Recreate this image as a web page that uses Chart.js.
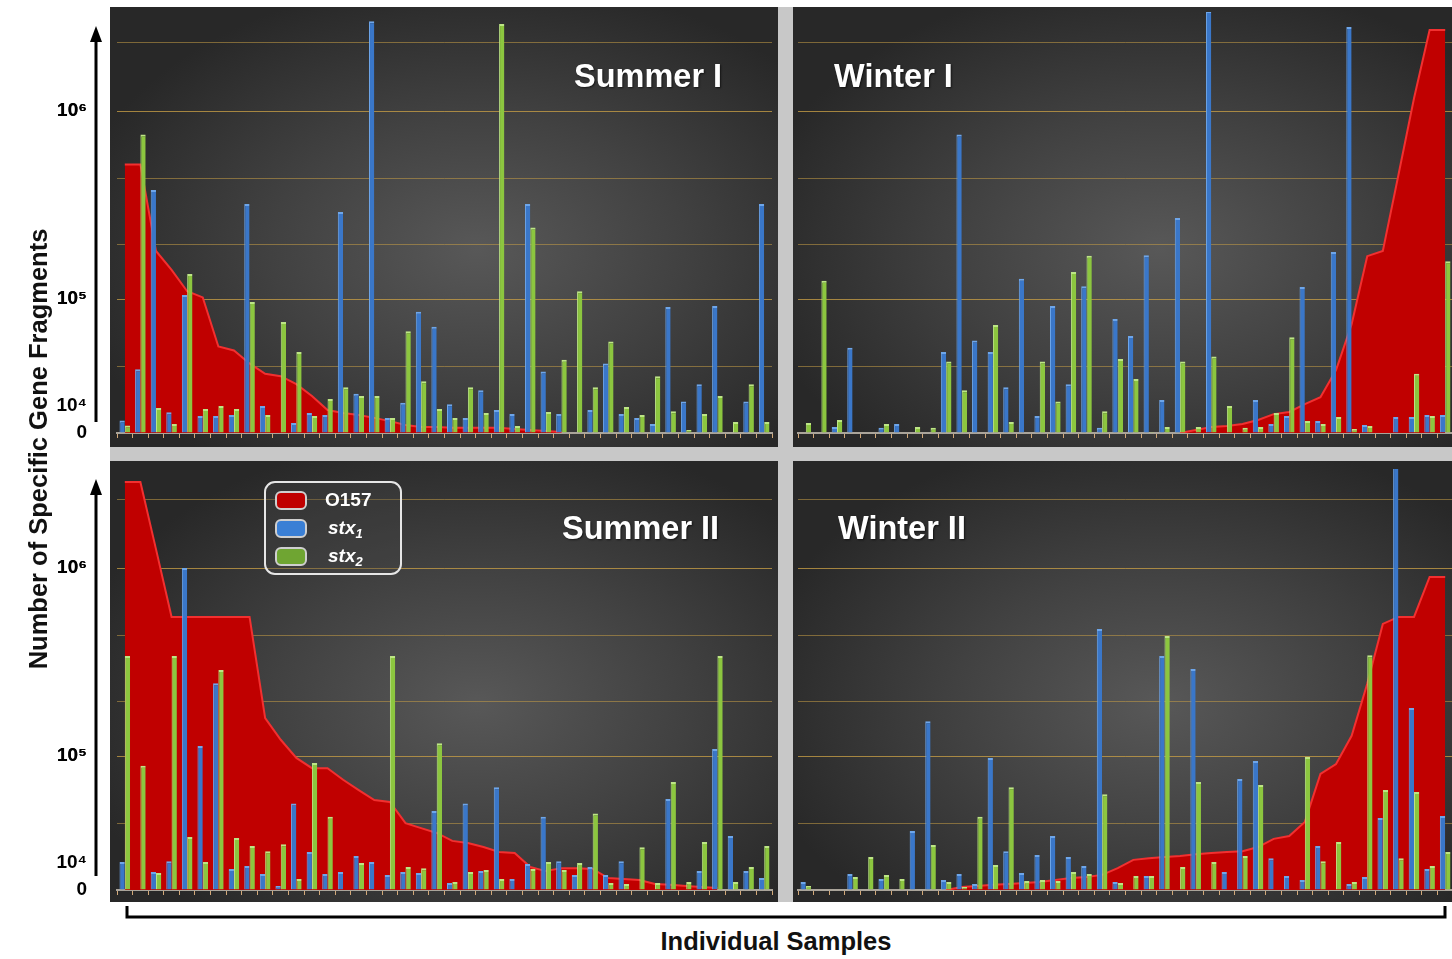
<!DOCTYPE html>
<html>
<head>
<meta charset="utf-8">
<script src="https://cdn.jsdelivr.net/npm/chart.js@4.4.0/dist/chart.umd.min.js"></script>
<style>
html, body { margin: 0; padding: 0; overflow: hidden; }
body { width: 1452px; height: 959px; background: #fff; position: relative; font-family: "Liberation Sans", Arial, sans-serif; }
.abs { position: absolute; }
#frame { left: 110px; top: 7px; width: 1342px; height: 895px; background: #c8c8c8; }
.panel { position: absolute; background: radial-gradient(ellipse 62% 62% at 55% 55%, #585858 0%, #414141 50%, #282828 100%); }
canvas { position: absolute; }
.title { position: absolute; color: #fff; font-weight: bold; font-size: 32.5px; line-height: 32px; white-space: nowrap; text-shadow: 1px 1px 2px rgba(0,0,0,0.6); }
#ytitle { left: -262px; top: 434px; width: 600px; height: 30px; line-height: 30px; text-align: center; font-weight: bold; font-size: 25.5px; color: #111; transform: rotate(-90deg); }
#xtitle { left: 476px; top: 927px; width: 600px; line-height: 28px; text-align: center; font-weight: bold; font-size: 25.5px; color: #111; }
#legend { left: 264px; top: 481px; width: 134px; height: 90px; border: 2px solid #e6e6e6; border-radius: 11px; background: rgba(70,70,70,0.35); }
.sw { position: absolute; left: 9px; width: 28px; height: 15px; border: 2px solid #cfcfcf; border-radius: 6px; }
.lt { position: absolute; left: 59px; color: #fff; font-weight: bold; font-size: 19px; line-height: 20px; }
.lt sub { font-size: 13px; vertical-align: -4px; line-height: 0; }
</style>
</head>
<body>
<div id="frame" class="abs"></div>
<div class="panel" style="left:110px;top:7px;width:668px;height:440px"></div>
<div class="panel" style="left:793px;top:7px;width:667px;height:440px"></div>
<div class="panel" style="left:110px;top:461px;width:668px;height:441px"></div>
<div class="panel" style="left:793px;top:461px;width:667px;height:441px"></div>

<canvas id="c1" width="748" height="440" style="left:30px;top:7px"></canvas>
<canvas id="c2" width="667" height="440" style="left:793px;top:7px"></canvas>
<canvas id="c3" width="748" height="441" style="left:30px;top:461px"></canvas>
<canvas id="c4" width="667" height="441" style="left:793px;top:461px"></canvas>

<div class="title" style="left:574px;top:60px">Summer I</div>
<div class="title" style="left:834px;top:60px">Winter I</div>
<div class="title" style="left:562px;top:512px">Summer II</div>
<div class="title" style="left:838px;top:512px">Winter II</div>

<div id="legend" class="abs">
  <div class="sw" style="top:8px;background:#c00000"></div>
  <div class="lt" style="top:7px">O157</div>
  <div class="sw" style="top:36px;background:#3a7fd5"></div>
  <div class="lt" style="top:35px;left:62px"><i>stx<sub>1</sub></i></div>
  <div class="sw" style="top:64px;background:#6fa532"></div>
  <div class="lt" style="top:63px;left:62px"><i>stx<sub>2</sub></i></div>
</div>

<div id="ytitle" class="abs">Number of Specific Gene Fragments</div>
<div id="xtitle" class="abs">Individual Samples</div>

<svg class="abs" style="left:0;top:0" width="1452" height="959">
  <g stroke="#000" stroke-width="3" fill="none">
    <line x1="96" y1="422" x2="96" y2="38"/>
    <line x1="96" y1="876" x2="96" y2="491"/>
    <polyline points="127,906 127,917 1445,917 1445,906"/>
  </g>
  <polygon points="96,26 90,42 102,42" fill="#000"/>
  <polygon points="96,479 90,495 102,495" fill="#000"/>
</svg>

<script>
// sample index on the x axis (42 samples per season)
var samples = [];
for (var i = 1; i <= 42; i++) samples.push(String(i));

// Summer I
var summer1_o157 = [520000, 520000, 180000, 143000, 110000, 102000, 36000, 33000, 25000, 20000, 19000, 16000, 12400, 8500, 7400, 6700, 5600, 4400, 3000, 2200, 2200, 1900, 1900, 1900, 1900, 1500, 1100, 740, 370, null, null, null, null, null, null, null, null, null, null, null, null, null];
var summer1_stx1 = [4600, 22000, 380000, 7700, 105000, 6300, 6300, 6700, 320000, 10000, 0, 3700, 7400, 6700, 290000, 13000, 3000000, 5600, 10700, 76000, 55000, 10400, 5600, 14000, 8500, 7000, 320000, 21000, 7000, 0, 8500, 25000, 7000, 5600, 3300, 84000, 11000, 16000, 86000, 0, 11000, 320000];
var summer1_stx2 = [2800, 750000, 9300, 3300, 136000, 8900, 10000, 8900, 94000, 6700, 61000, 32000, 6300, 11600, 15000, 12400, 12400, 5600, 50000, 17000, 8900, 5600, 15000, 7400, 2900000, 2600, 240000, 7800, 27000, 110000, 15000, 40000, 9600, 6700, 19000, 8100, 1100, 7000, 12400, 4100, 16000, 4100];

// Winter I
var winter1_o157 = [null, null, null, null, null, null, null, null, null, null, null, null, null, null, null, null, null, null, null, null, null, null, null, null, 0, 1100, 2200, 2600, 3300, 4800, 7000, 7800, 10400, 12100, 21700, 58000, 169000, 180000, 457000, 1170000, 2700000, 2700000];
var winter1_stx1 = [0, 0, 2200, 35000, 0, 1900, 3300, 0, 0, 32000, 750000, 41000, 32000, 15000, 128000, 6300, 86000, 16000, 117000, 1900, 65000, 45000, 171000, 11400, 270000, 0, 3400000, 0, 0, 11400, 3300, 6300, 116000, 4400, 178000, 2800000, 3000, 0, 5900, 5900, 6700, 6700];
var winter1_stx2 = [3700, 125000, 4800, 0, 0, 3300, 0, 2200, 1900, 26000, 14000, 0, 57000, 4100, 0, 26000, 11000, 139000, 170000, 8100, 27500, 17900, 400, 2200, 26000, 2200, 29000, 10000, 1900, 2200, 7400, 44000, 4400, 3300, 5900, 1500, 2600, 0, 0, 20000, 6300, 159000];

// Summer II
var summer2_o157 = [2870000, 2870000, 1260000, 549000, 549000, 549000, 549000, 549000, 549000, 159000, 122000, 96000, 77000, 77000, 60000, 48000, 38800, 37200, 23600, 21200, 19100, 16100, 15400, 14100, 12700, 12400, 8500, 7000, 8100, 8100, 7800, 4400, 4100, 3700, 2200, 1900, 1500, 1100, 740, null, null, null];
var summer2_stx1 = [10200, 0, 6700, 10400, 1000000, 113000, 244000, 7800, 8900, 5900, 1500, 36000, 12700, 5900, 6700, 11600, 10200, 5600, 6700, 6300, 30600, 2600, 36000, 7000, 51000, 4100, 9600, 27000, 10400, 5600, 8500, 5600, 10400, 0, 0, 39600, 0, 7000, 109000, 17900, 7000, 4400];
var summer2_stx2 = [340000, 81000, 6300, 340000, 17500, 10200, 287000, 17100, 14400, 12900, 15000, 4100, 86000, 27000, 0, 10000, 0, 340000, 8500, 8100, 117000, 3000, 6700, 7400, 4100, 0, 7800, 10200, 7400, 10000, 29000, 2600, 2200, 14000, 2600, 57000, 3000, 15700, 340000, 3000, 8500, 14400];

// Winter II
var winter2_o157 = [null, null, null, null, null, null, null, null, null, 0, 1100, 1500, 1900, 2200, 2600, 3000, 3700, 4400, 4800, 5600, 8100, 10700, 11100, 11400, 11600, 12100, 12400, 12700, 12900, 14100, 16800, 17900, 24200, 67900, 84000, 128000, 242000, 504000, 549000, 549000, 896000, 896000];
var winter2_stx1 = [3000, 0, 0, 5900, 0, 4100, 0, 19900, 153000, 3700, 5900, 2200, 96000, 12900, 6300, 11900, 17900, 11400, 8900, 474000, 3000, 0, 5200, 340000, 0, 290000, 0, 6700, 61000, 90000, 11100, 5200, 3700, 14400, 0, 2200, 4800, 26300, 3490000, 180000, 7800, 27500];
var winter2_stx2 = [1500, 0, 0, 4800, 11400, 5600, 4100, 0, 14700, 3000, 1100, 27000, 9300, 51000, 3300, 3700, 3300, 6700, 5900, 44000, 2600, 5200, 5200, 435000, 8500, 57000, 10200, 0, 11600, 53600, 0, 0, 98000, 10400, 15700, 3000, 344000, 48000, 11100, 46100, 8900, 12700];

// y axis: labelled ticks and the gold grid lines
var tickValues = [0, 10000, 100000, 1000000];
var tickLabels = ['0', '10\u2074', '10\u2075', '10\u2076'];
var gridValues = [23400, 100000, 195000, 440000, 1000000, 2300000];

// the original axis is linear below 10^4 and stretched log above it
var toAxis = function(v) {
    if (v === null) return null;
    if (v <= 1e4) return 27 * v / 1e4;
    if (v <= 1e5) return 27 + 107 * Math.log10(v / 1e4);
    return 134 + 188 * Math.log10(v / 1e5);
};

var near = function(a, b) { return Math.abs(a - b) < 0.01; };

var newChart = function(id, o157, stx1, stx2, opt) {
    var ctx = document.getElementById(id).getContext('2d');
    return new Chart(ctx, {
        type: 'bar',
        data: {
            labels: samples,
            datasets: [{
                label: 'stx1',
                data: stx1.map(toAxis),
                backgroundColor: '#3a77c9',
                borderColor: '#6ea6ea',
                borderWidth: {top: 2, left: 1, right: 0, bottom: 0},
                categoryPercentage: 0.68,
                barPercentage: 1.0,
                order: 1
            }, {
                label: 'stx2',
                data: stx2.map(toAxis),
                backgroundColor: '#8cc63f',
                borderColor: '#bde685',
                borderWidth: {top: 2, left: 1, right: 0, bottom: 0},
                categoryPercentage: 0.68,
                barPercentage: 1.0,
                order: 2
            }, {
                type: 'line',
                label: 'O157',
                data: o157.map(toAxis),
                borderColor: '#f23030',
                backgroundColor: '#c00000',
                borderWidth: 2,
                fill: 'origin',
                pointRadius: 0,
                tension: 0,
                order: 3
            }]
        },
        options: {
            responsive: false,
            animation: false,
            layout: {padding: {top: opt.padTop, right: opt.padRight, left: 0, bottom: 0}},
            plugins: {legend: {display: false}, tooltip: {enabled: false}},
            scales: {
                x: {
                    ticks: {display: false},
                    grid: {offset: true, drawOnChartArea: false, drawTicks: true, tickLength: 5, color: '#d2a878'},
                    border: {display: true, color: '#aaa49a', width: 2},
                    afterFit: function(s) { s.height = opt.xHeight; s.paddingLeft = 0; s.paddingRight = 0; }
                },
                y: {
                    min: 0,
                    max: 421,
                    afterBuildTicks: function(s) {
                        var vals = tickValues.concat(gridValues).map(toAxis);
                        s.ticks = vals.map(function(v) { return {value: v}; });
                    },
                    ticks: {
                        display: opt.showY,
                        autoSkip: false,
                        padding: 30,
                        color: '#000',
                        font: {family: '"Liberation Sans", Arial, sans-serif', size: 19, weight: 'bold'},
                        callback: function(value) {
                            for (var k = 0; k < tickValues.length; k++) {
                                if (near(value, toAxis(tickValues[k]))) return tickLabels[k];
                            }
                            return '';
                        }
                    },
                    grid: {
                        drawTicks: false,
                        lineWidth: 1,
                        color: function(c) {
                            if (!c.tick) return 'transparent';
                            for (var k = 0; k < gridValues.length; k++) {
                                if (near(c.tick.value, toAxis(gridValues[k]))) return 'rgba(196,156,70,0.55)';
                            }
                            return 'transparent';
                        }
                    },
                    border: {display: false},
                    afterFit: function(s) { s.width = opt.yWidth; s.paddingTop = 0; s.paddingBottom = 0; }
                }
            }
        }
    });
};

newChart('c1', summer1_o157, summer1_stx1, summer1_stx2, {showY: true, yWidth: 87, padTop: 5, padRight: 6, xHeight: 14});
newChart('c2', winter1_o157, winter1_stx1, winter1_stx2, {showY: false, yWidth: 5, padTop: 5, padRight: 7, xHeight: 14});
newChart('c3', summer2_o157, summer2_stx1, summer2_stx2, {showY: true, yWidth: 87, padTop: 8, padRight: 6, xHeight: 12});
newChart('c4', winter2_o157, winter2_stx1, winter2_stx2, {showY: false, yWidth: 5, padTop: 8, padRight: 7, xHeight: 12});
</script>
</body>
</html>
